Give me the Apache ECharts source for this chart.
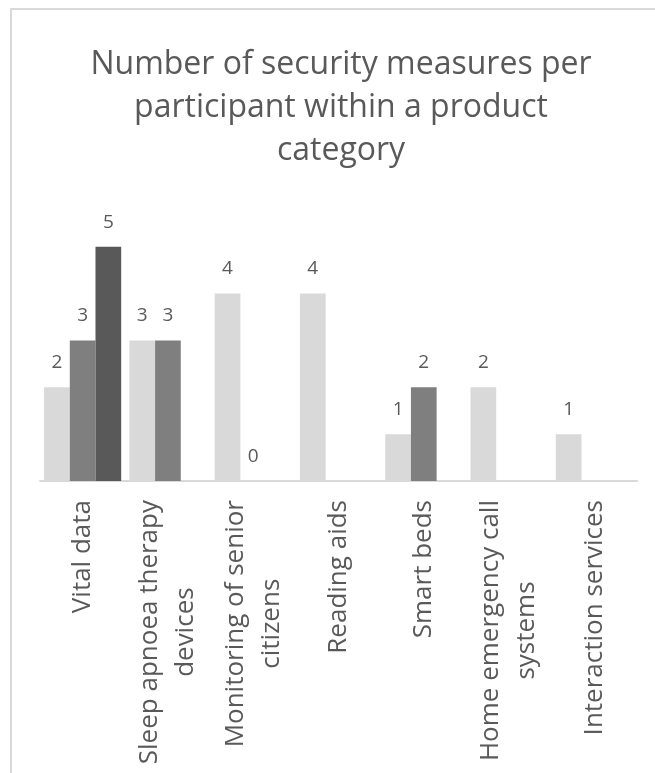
<!DOCTYPE html>
<html>
<head>
<meta charset="utf-8">
<script src="https://cdn.jsdelivr.net/npm/echarts@6/dist/echarts.min.js"></script>
<style>
  html, body { margin: 0; padding: 0; background: #fff; }
  #main { width: 655px; height: 773px; }
</style>
</head>
<body>
<div id="main"></div>
<script>
// categories (product categories) and the values per participant
var categories = [
    'Vital data',
    'Sleep apnoea therapy\ndevices',
    'Monitoring of senior\ncitizens',
    'Reading aids',
    'Smart beds',
    'Home emergency call\nsystems',
    'Interaction services'
];
var participant1 = [2, 3, 4, 4, 1, 2, 1];
var participant2 = [3, 3, 0, null, 2, null, null];
var participant3 = [5, null, null, null, null, null, null];

var FONT = '"Open Sans", "DejaVu Sans", sans-serif';
var TEXT = '#595959';

function barSeries(name, data, color){
    return {
        name: name,
        type: 'bar',
        data: data,
        barWidth: 25.7,
        barGap: '0%',
        itemStyle: { color: color },
        label: {
            show: true,
            position: 'top',
            distance: 15,
            color: TEXT,
            fontFamily: FONT,
            fontSize: 19
        }
    };
}

var myChart = echarts.init(document.getElementById('main'));
var option = {
    backgroundColor: '#ffffff',
    animation: false,
    title: {
        text: 'Number of security measures per\nparticipant within a product\ncategory',
        left: 336,
        textAlign: 'center',
        top: 38,
        textStyle: {
            color: TEXT,
            fontFamily: FONT,
            fontWeight: 'normal',
            fontSize: 32,
            lineHeight: 43
        }
    },
    graphic: [{
        type: 'rect',
        shape: { x: 11, y: 9, width: 700, height: 800 },
        style: { fill: 'none', stroke: '#d9d9d9', lineWidth: 2 },
        silent: true
    }],
    grid: { left: 40, right: 18, top: 246.7, bottom: 292 },
    xAxis: {
        type: 'category',
        data: categories,
        axisLine: { lineStyle: { color: '#d9d9d9', width: 2 } },
        axisTick: { show: false },
        axisLabel: {
            interval: 0,
            rotate: 90,
            margin: 19,
            formatter: function(v){
                return v.split('\n').map(function(s){ return '{c|' + s + '}'; }).join('\n');
            },
            rich: {
                c: {
                    align: 'center',
                    color: TEXT,
                    fontFamily: FONT,
                    fontSize: 26,
                    lineHeight: 36
                }
            }
        }
    },
    yAxis: {
        type: 'value',
        min: 0,
        max: 5,
        show: false,
        splitLine: { show: false }
    },
    series: [
        barSeries('Participant 1', participant1, '#d9d9d9'),
        barSeries('Participant 2', participant2, '#7f7f7f'),
        barSeries('Participant 3', participant3, '#595959')
    ]
};
myChart.setOption(option);
</script>
</body>
</html>
